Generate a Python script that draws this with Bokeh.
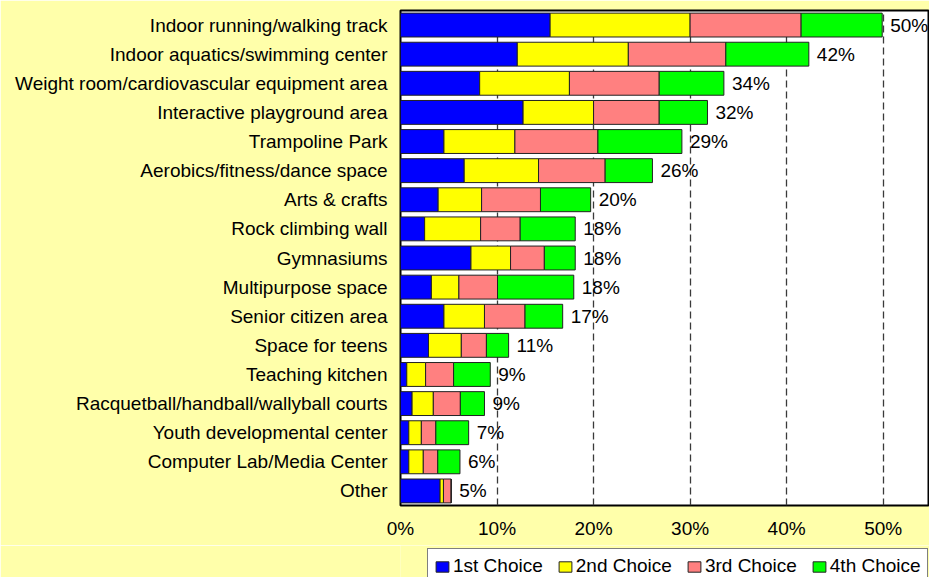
from bokeh.plotting import figure
from bokeh.models import ColumnDataSource, FactorRange, Legend, LegendItem, FixedTicker, LabelSet
from bokeh.layouts import column
from bokeh.core.properties import value
from bokeh.embed import file_html
from bokeh.resources import INLINE

categories = [
    "Indoor running/walking track",
    "Indoor aquatics/swimming center",
    "Weight room/cardiovascular equipment area",
    "Interactive playground area",
    "Trampoline Park",
    "Aerobics/fitness/dance space",
    "Arts & crafts",
    "Rock climbing wall",
    "Gymnasiums",
    "Multipurpose space",
    "Senior citizen area",
    "Space for teens",
    "Teaching kitchen",
    "Racquetball/handball/wallyball courts",
    "Youth developmental center",
    "Computer Lab/Media Center",
    "Other",
]
first_choice = [15.5, 12.1, 8.2, 12.7, 4.5, 6.6, 3.9, 2.5, 7.3, 3.2, 4.5, 2.9, 0.65, 1.2, 0.86, 0.86, 4.1]
second_choice = [14.5, 11.5, 9.3, 7.3, 7.35, 7.7, 4.5, 5.8, 4.1, 2.85, 4.2, 3.4, 1.95, 2.2, 1.3, 1.5, 0.35]
third_choice = [11.5, 10.1, 9.3, 6.8, 8.6, 6.9, 6.1, 4.1, 3.5, 4.0, 4.2, 2.6, 2.9, 2.8, 1.5, 1.5, 0.8]
fourth_choice = [8.4, 8.6, 6.7, 5.0, 8.7, 4.9, 5.2, 5.7, 3.2, 7.9, 3.9, 2.3, 3.8, 2.5, 3.4, 2.3, 0.0]
total_labels = ["50%", "42%", "34%", "32%", "29%", "26%", "20%", "18%", "18%", "18%",
                "17%", "11%", "9%", "9%", "7%", "6%", "5%"]
series_names = ["1st Choice", "2nd Choice", "3rd Choice", "4th Choice"]
x_ticks = [0, 10, 20, 30, 40, 50]

colors = ["#0000FF", "#FFFF00", "#FF8080", "#00FF00"]
bg = "#FFFFAA"
FONT = "Liberation Sans"
FS = "19px"

totals = [a + b + c + d for a, b, c, d in zip(first_choice, second_choice, third_choice, fourth_choice)]
source = ColumnDataSource(dict(
    cat=categories, s1=first_choice, s2=second_choice, s3=third_choice, s4=fourth_choice,
    total=totals, lbl=total_labels,
))

p = figure(
    width=929, height=545,
    y_range=FactorRange(*list(reversed(categories))),
    x_range=(0, 54.8),
    output_backend="svg", toolbar_location=None,
    min_border_left=400, min_border_right=0, min_border_top=10, min_border_bottom=40,
)
p.background_fill_color = "white"
p.border_fill_color = bg
p.outline_line_color = "black"
p.outline_line_width = 2

renderers = p.hbar_stack(["s1", "s2", "s3", "s4"], y="cat", height=0.82, source=source,
                         color=colors, line_color="#222222", line_width=1)
for r, c in zip(renderers, colors):
    r.glyph.fill_color = c
    r.glyph.line_color = "#222222"

labels = LabelSet(x="total", y="cat", text="lbl", source=source, x_offset=8,
                  text_baseline="middle", text_font=value(FONT), text_font_size=value(FS),
                  text_color="black")
p.add_layout(labels)

p.xaxis.ticker = FixedTicker(ticks=x_ticks)
p.xaxis.major_label_overrides = {t: f"{t}%" for t in x_ticks}
p.xaxis.major_label_text_font = FONT
p.xaxis.major_label_text_font_size = FS
p.xaxis.major_label_text_color = "black"
p.xaxis.major_tick_out = 0
p.xaxis.major_tick_in = 0
p.xaxis.minor_tick_line_color = None
p.xaxis.axis_line_color = None
p.xaxis.major_label_standoff = 12

p.yaxis.major_label_text_font = FONT
p.yaxis.major_label_text_font_size = FS
p.yaxis.major_label_text_color = "black"
p.yaxis.major_tick_out = 0
p.yaxis.major_tick_in = 0
p.yaxis.axis_line_color = None
p.yaxis.major_label_standoff = 13

p.ygrid.grid_line_color = None
p.xgrid.grid_line_color = "#3a3a3a"
p.xgrid.grid_line_dash = "7 4"
p.xgrid.grid_line_width = 1.3

# legend strip below the chart (swatch renderers hold one sample each, outside the strip's view)
lg = figure(width=929, height=32, output_backend="svg", toolbar_location=None,
            x_range=(0, 1), y_range=(0, 1),
            min_border_left=0, min_border_right=0, min_border_top=0, min_border_bottom=0)
lg.axis.visible = False
lg.grid.grid_line_color = None
lg.outline_line_color = None
lg.background_fill_color = bg
lg.border_fill_color = bg
swatches = [lg.hbar(y=[-10], left=[-10], right=[-9], height=0.5, fill_color=c, line_color="#222222")
            for c in colors]
legend = Legend(
    items=[LegendItem(label=n, renderers=[r]) for n, r in zip(series_names, swatches)],
    orientation="horizontal", location=(27, -7),
    background_fill_color="white", background_fill_alpha=1,
    border_line_color="black", border_line_width=1,
    label_text_font=FONT, label_text_font_size=FS, label_text_color="black",
    glyph_width=16, glyph_height=13, label_standoff=3, spacing=14,
    padding=6, margin=0, label_height=18,
)
lg.add_layout(legend, "center")

open("out.html", "w").write(file_html(column(p, lg, spacing=0), INLINE))
